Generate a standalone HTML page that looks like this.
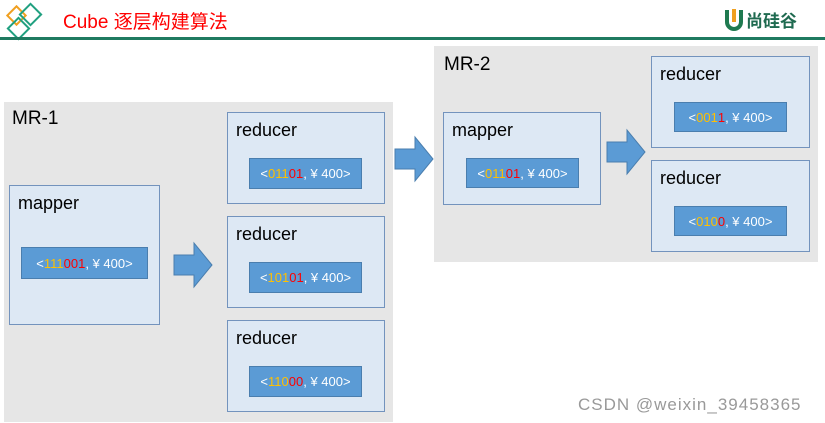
<!DOCTYPE html>
<html><head><meta charset="utf-8"><style>
*{margin:0;padding:0;box-sizing:border-box}
body{width:825px;height:423px;background:#fff;position:relative;overflow:hidden;font-family:"Liberation Sans","Noto Sans CJK SC",sans-serif}
.a{position:absolute}
.mr{background:#e6e6e6}
.bx{position:absolute;background:#dde8f4;border:1px solid #7393bd}
.lbl{position:absolute;font-size:18px;color:#000;left:8px;top:7px}
.in{position:absolute;background:#5b9bd5;border:1px solid #4a7eae;color:#fff;font-size:13px;display:flex;align-items:center;justify-content:center;white-space:pre}
.o{color:#ffc000}.r{color:#ff0000}
</style></head><body>
<svg class="a" style="left:0;top:0" width="825" height="45">
<rect x="10" y="9" width="13" height="13" transform="rotate(45 16.5 15.5)" fill="none" stroke="#f0a020" stroke-width="2"/>
<rect x="23" y="7" width="15" height="15" transform="rotate(45 30.5 14.5)" fill="none" stroke="#20a080" stroke-width="2"/>
<rect x="11" y="21" width="15" height="15" transform="rotate(45 18.5 28.5)" fill="none" stroke="#20a080" stroke-width="2"/>
<rect x="0" y="37" width="825" height="3" fill="#1f7a60"/>
<path d="M727 10 v12 a7 7 0 0 0 14 0 v-12" fill="none" stroke="#1f7a50" stroke-width="4"/>
<rect x="732" y="9" width="4" height="13" fill="#f0a020"/>
</svg>
<div class="a" style="left:63px;top:7px;color:#ff0000;font-size:19px">Cube 逐层构建算法</div>
<div class="a" style="left:746px;top:7px;color:#1f6a50;font-size:17px;font-weight:bold">尚硅谷</div>

<div class="a mr" style="left:4px;top:102px;width:389px;height:320px"></div>
<div class="a" style="left:12px;top:108px;font-size:19px">MR-1</div>
<div class="a mr" style="left:434px;top:46px;width:384px;height:216px"></div>
<div class="a" style="left:444px;top:54px;font-size:19px">MR-2</div>

<div class="bx" style="left:9px;top:185px;width:151px;height:140px"><div class="lbl">mapper</div></div>
<div class="in" style="left:21px;top:247px;width:127px;height:32px">&lt;<span class="o">111</span><span class="r">001</span>, ¥ 400&gt;</div>

<div class="bx" style="left:227px;top:112px;width:158px;height:92px"><div class="lbl">reducer</div></div>
<div class="in" style="left:249px;top:158px;width:113px;height:31px">&lt;<span class="o">011</span><span class="r">01</span>, ¥ 400&gt;</div>
<div class="bx" style="left:227px;top:216px;width:158px;height:92px"><div class="lbl">reducer</div></div>
<div class="in" style="left:249px;top:262px;width:113px;height:31px">&lt;<span class="o">101</span><span class="r">01</span>, ¥ 400&gt;</div>
<div class="bx" style="left:227px;top:320px;width:158px;height:92px"><div class="lbl">reducer</div></div>
<div class="in" style="left:249px;top:366px;width:113px;height:31px">&lt;<span class="o">110</span><span class="r">00</span>, ¥ 400&gt;</div>

<div class="bx" style="left:443px;top:112px;width:158px;height:93px"><div class="lbl">mapper</div></div>
<div class="in" style="left:466px;top:158px;width:113px;height:30px">&lt;<span class="o">011</span><span class="r">01</span>, ¥ 400&gt;</div>

<div class="bx" style="left:651px;top:56px;width:159px;height:92px"><div class="lbl">reducer</div></div>
<div class="in" style="left:674px;top:102px;width:113px;height:30px">&lt;<span class="o">001</span><span class="r">1</span>, ¥ 400&gt;</div>
<div class="bx" style="left:651px;top:160px;width:159px;height:92px"><div class="lbl">reducer</div></div>
<div class="in" style="left:674px;top:206px;width:113px;height:30px">&lt;<span class="o">010</span><span class="r">0</span>, ¥ 400&gt;</div>

<svg class="a" style="left:0;top:0" width="825" height="423">
<g fill="#5b9bd5" stroke="#4a7eae" stroke-width="1">
<path d="M174 255 h20 v-12 l18 22 l-18 22 v-12 h-20 z"/>
<path d="M395 149 h20 v-12 l18 22 l-18 22 v-12 h-20 z"/>
<path d="M607 142 h20 v-12 l18 22 l-18 22 v-12 h-20 z"/>
</g></svg>
<div class="a" style="left:578px;top:395px;color:#999;font-size:17px;letter-spacing:1px">CSDN @weixin_39458365</div>
</body></html>
